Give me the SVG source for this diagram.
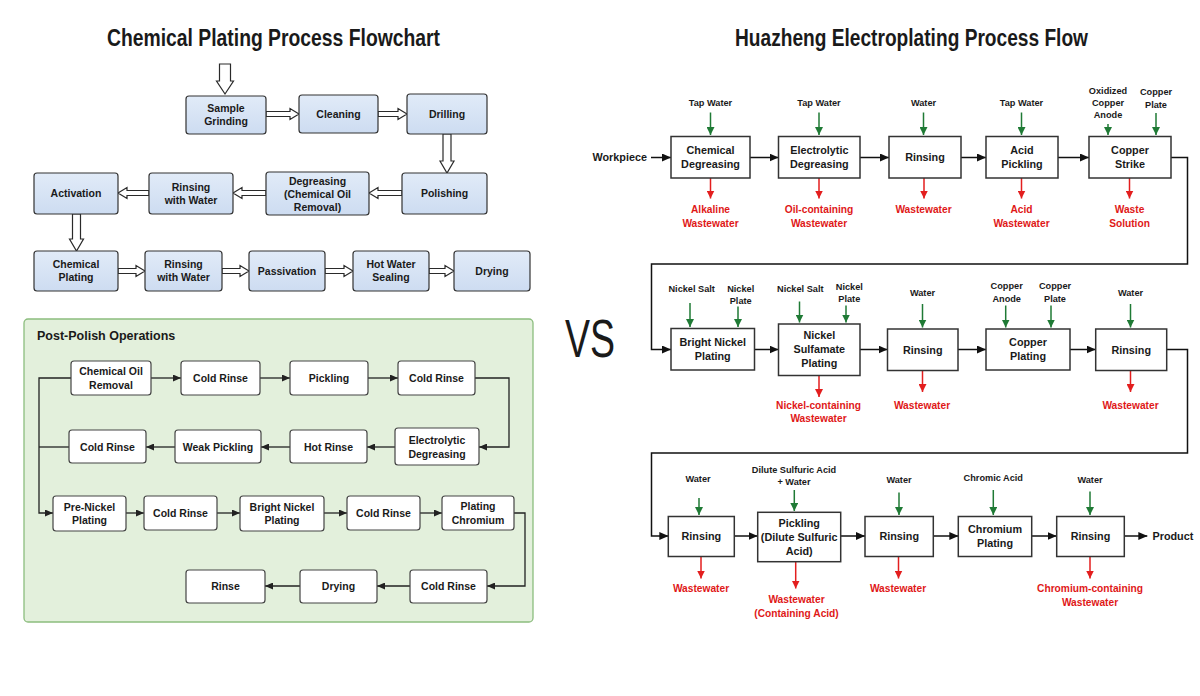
<svg xmlns="http://www.w3.org/2000/svg" width="1200" height="696" viewBox="0 0 1200 696">
<defs>
<linearGradient id="blue" x1="0" y1="0" x2="0" y2="1">
<stop offset="0" stop-color="#e1ebf8"/>
<stop offset="1" stop-color="#cddcf1"/>
</linearGradient>
<marker id="ak" markerUnits="userSpaceOnUse" markerWidth="9" markerHeight="8" viewBox="0 0 9 8" refX="9" refY="4" orient="auto"><path d="M0,0 L9,4 L0,8 z" fill="#111"/></marker>
<marker id="as" markerUnits="userSpaceOnUse" markerWidth="8" markerHeight="7" viewBox="0 0 8 7" refX="8" refY="3.5" orient="auto"><path d="M0,0 L8,3.5 L0,7 z" fill="#222"/></marker>
<marker id="ag" markerUnits="userSpaceOnUse" markerWidth="8" markerHeight="8" viewBox="0 0 8 8" refX="8" refY="4" orient="auto"><path d="M0,0 L8,4 L0,8 z" fill="#1f7a35"/></marker>
<marker id="ar" markerUnits="userSpaceOnUse" markerWidth="8" markerHeight="8" viewBox="0 0 8 8" refX="8" refY="4" orient="auto"><path d="M0,0 L8,4 L0,8 z" fill="#e31e1e"/></marker>
<style>
text{font-family:"Liberation Sans",Arial,sans-serif;font-weight:bold;fill:#1a1a1a}
.bx{fill:url(#blue);stroke:#333;stroke-width:1.2}
.wb{fill:#fff;stroke:#444;stroke-width:1.2}
.rb{fill:#fff;stroke:#333;stroke-width:1.5}
.t1{font-size:10.5px;text-anchor:middle}
.t2{font-size:10.8px;text-anchor:middle}
.lg{font-size:9.2px;text-anchor:middle}
.lr{font-size:10.2px;text-anchor:middle;fill:#e01818}
.ho{fill:#fff;stroke:#2a2a2a;stroke-width:1.2}
.cn{fill:none;stroke:#222;stroke-width:1.3}
.ck{fill:none;stroke:#111;stroke-width:1.5}
.cg{fill:none;stroke:#1f7a35;stroke-width:1.5}
.cr{fill:none;stroke:#e31e1e;stroke-width:1.5}
</style>
</defs>
<rect width="1200" height="696" fill="#fff"/>

<text x="273.5" y="46" font-size="23" text-anchor="middle" textLength="333" lengthAdjust="spacingAndGlyphs">Chemical Plating Process Flowchart</text>
<text x="911.5" y="46" font-size="23" text-anchor="middle" textLength="353" lengthAdjust="spacingAndGlyphs">Huazheng Electroplating Process Flow</text>
<text x="590" y="357" font-size="54" style="font-weight:normal" fill="#111" text-anchor="middle" textLength="50" lengthAdjust="spacingAndGlyphs">VS</text>

<g id="left-connectors">
<polygon class="ho" points="219.5,64 230.5,64 230.5,81 233.5,81 225,94 216.5,81 219.5,81"/>
<polygon class="ho" points="266,111.5 290,111.5 290,108.5 299,114 290,119.5 290,116.5 266,116.5"/>
<polygon class="ho" points="378,111.5 398,111.5 398,108.5 407,114 398,119.5 398,116.5 378,116.5"/>
<polygon class="ho" points="443,134 451,134 451,161 454,161 447,173 440,161 443,161"/>
<polygon class="ho" points="402,190.5 378,190.5 378,187.5 369,193 378,198.5 378,195.5 402,195.5"/>
<polygon class="ho" points="266,190.5 242,190.5 242,187.5 233,193 242,198.5 242,195.5 266,195.5"/>
<polygon class="ho" points="149,190.5 127,190.5 127,187.5 118,193 127,198.5 127,195.5 149,195.5"/>
<polygon class="ho" points="72.5,214 80.5,214 80.5,239 83.5,239 76.5,251 69.5,239 72.5,239"/>
<polygon class="ho" points="118,268.5 136,268.5 136,265.5 145,271 136,276.5 136,273.5 118,273.5"/>
<polygon class="ho" points="222,268.5 240,268.5 240,265.5 249,271 240,276.5 240,273.5 222,273.5"/>
<polygon class="ho" points="325,268.5 344,268.5 344,265.5 353,271 344,276.5 344,273.5 325,273.5"/>
<polygon class="ho" points="429,268.5 445,268.5 445,265.5 454,271 445,276.5 445,273.5 429,273.5"/>
</g>

<g id="n-sample"><rect class="bx" x="186" y="96" width="80" height="38" rx="3"/><text class="t1" x="226" y="112"><tspan x="226">Sample</tspan><tspan x="226" y="125.4">Grinding</tspan></text></g>
<g id="n-cleaning"><rect class="bx" x="299" y="95" width="79" height="38" rx="3"/><text class="t1" x="338.5" y="117.8">Cleaning</text></g>
<g id="n-drilling"><rect class="bx" x="407" y="94" width="80" height="40" rx="3"/><text class="t1" x="447" y="117.8">Drilling</text></g>
<g id="n-polishing"><rect class="bx" x="402" y="173" width="85" height="41" rx="3"/><text class="t1" x="444.5" y="197.3">Polishing</text></g>
<g id="n-degreasing"><rect class="bx" x="266" y="172" width="103" height="43" rx="3"/><text class="t1" x="317.5" y="185"><tspan x="317.5">Degreasing</tspan><tspan x="317.5" y="198">(Chemical Oil</tspan><tspan x="317.5" y="211">Removal)</tspan></text></g>
<g id="n-rinse1"><rect class="bx" x="149" y="173" width="84" height="41" rx="3"/><text class="t1" x="191" y="190.6"><tspan x="191">Rinsing</tspan><tspan x="191" y="204">with Water</tspan></text></g>
<g id="n-activation"><rect class="bx" x="34" y="173" width="84" height="41" rx="3"/><text class="t1" x="76" y="197.3">Activation</text></g>
<g id="n-chemplating"><rect class="bx" x="34" y="251" width="84" height="40" rx="3"/><text class="t1" x="76" y="268"><tspan x="76">Chemical</tspan><tspan x="76" y="281.4">Plating</tspan></text></g>
<g id="n-rinse2"><rect class="bx" x="145" y="251" width="77" height="40" rx="3"/><text class="t1" x="183.5" y="268"><tspan x="183.5">Rinsing</tspan><tspan x="183.5" y="281.4">with Water</tspan></text></g>
<g id="n-passivation"><rect class="bx" x="249" y="251" width="76" height="40" rx="3"/><text class="t1" x="287" y="274.8">Passivation</text></g>
<g id="n-sealing"><rect class="bx" x="353" y="251" width="76" height="40" rx="3"/><text class="t1" x="391" y="268"><tspan x="391">Hot Water</tspan><tspan x="391" y="281.4">Sealing</tspan></text></g>
<g id="n-drying"><rect class="bx" x="454" y="251" width="76" height="40" rx="3"/><text class="t1" x="492" y="274.8">Drying</text></g>

<g id="panel">
<rect x="24" y="319" width="509" height="303" rx="4" fill="#e3f0dc" stroke="#8cbd7e" stroke-width="1.3"/>
<text x="37" y="340" font-size="12.5">Post-Polish Operations</text>
</g>

<g id="panel-connectors">
<line class="cn" x1="151" y1="378" x2="181" y2="378" marker-end="url(#as)"/>
<line class="cn" x1="260" y1="378" x2="290" y2="378" marker-end="url(#as)"/>
<line class="cn" x1="368" y1="378" x2="398" y2="378" marker-end="url(#as)"/>
<path class="cn" d="M475,378 H509 V447 H479" marker-end="url(#as)"/>
<line class="cn" x1="395" y1="447" x2="367" y2="447" marker-end="url(#as)"/>
<line class="cn" x1="290" y1="447" x2="261" y2="447" marker-end="url(#as)"/>
<line class="cn" x1="175" y1="447" x2="146" y2="447" marker-end="url(#as)"/>
<path class="cn" d="M71,378 H39 V513 H53" marker-end="url(#as)"/>
<path class="cn" d="M69,447 H39"/>
<line class="cn" x1="126" y1="513" x2="144" y2="513" marker-end="url(#as)"/>
<line class="cn" x1="217" y1="513" x2="240" y2="513" marker-end="url(#as)"/>
<line class="cn" x1="324" y1="513" x2="347" y2="513" marker-end="url(#as)"/>
<line class="cn" x1="420" y1="513" x2="442" y2="513" marker-end="url(#as)"/>
<path class="cn" d="M514,513 H525 V586 H487" marker-end="url(#as)"/>
<line class="cn" x1="410" y1="586" x2="377" y2="586" marker-end="url(#as)"/>
<line class="cn" x1="300" y1="586" x2="265" y2="586" marker-end="url(#as)"/>
</g>

<g id="p-oil"><rect class="wb" x="71" y="361" width="80" height="34" rx="3"/><text class="t1" x="111" y="375.1"><tspan x="111">Chemical Oil</tspan><tspan x="111" y="388.5">Removal</tspan></text></g>
<g id="p-cold1"><rect class="wb" x="181" y="361" width="79" height="34" rx="3"/><text class="t1" x="220.5" y="381.8">Cold Rinse</text></g>
<g id="p-pickling"><rect class="wb" x="290" y="361" width="78" height="34" rx="3"/><text class="t1" x="329" y="381.8">Pickling</text></g>
<g id="p-cold2"><rect class="wb" x="398" y="361" width="77" height="34" rx="3"/><text class="t1" x="436.5" y="381.8">Cold Rinse</text></g>
<g id="p-electro"><rect class="wb" x="395" y="428" width="84" height="37" rx="3"/><text class="t1" x="437" y="444.1"><tspan x="437">Electrolytic</tspan><tspan x="437" y="457.5">Degreasing</tspan></text></g>
<g id="p-hot"><rect class="wb" x="290" y="430" width="77" height="33" rx="3"/><text class="t1" x="328.5" y="450.8">Hot Rinse</text></g>
<g id="p-weak"><rect class="wb" x="175" y="430" width="86" height="33" rx="3"/><text class="t1" x="218" y="450.8">Weak Pickling</text></g>
<g id="p-cold3"><rect class="wb" x="69" y="430" width="77" height="33" rx="3"/><text class="t1" x="107.5" y="450.8">Cold Rinse</text></g>
<g id="p-prenickel"><rect class="wb" x="53" y="496" width="73" height="35" rx="3"/><text class="t1" x="89.5" y="510.5"><tspan x="89.5">Pre-Nickel</tspan><tspan x="89.5" y="523.9">Plating</tspan></text></g>
<g id="p-cold4"><rect class="wb" x="144" y="496" width="73" height="34" rx="3"/><text class="t1" x="180.5" y="516.8">Cold Rinse</text></g>
<g id="p-bright"><rect class="wb" x="240" y="496" width="84" height="35" rx="3"/><text class="t1" x="282" y="510.5"><tspan x="282">Bright Nickel</tspan><tspan x="282" y="523.9">Plating</tspan></text></g>
<g id="p-cold5"><rect class="wb" x="347" y="496" width="73" height="34" rx="3"/><text class="t1" x="383.5" y="516.8">Cold Rinse</text></g>
<g id="p-chrome"><rect class="wb" x="442" y="496" width="72" height="34" rx="3"/><text class="t1" x="478" y="510.3"><tspan x="478">Plating</tspan><tspan x="478" y="523.7">Chromium</tspan></text></g>
<g id="p-cold6"><rect class="wb" x="410" y="570" width="77" height="33" rx="3"/><text class="t1" x="448.5" y="590.3">Cold Rinse</text></g>
<g id="p-drying"><rect class="wb" x="300" y="570" width="77" height="33" rx="3"/><text class="t1" x="338.5" y="590.3">Drying</text></g>
<g id="p-rinse"><rect class="wb" x="186" y="570" width="79" height="33" rx="3"/><text class="t1" x="225.5" y="590.3">Rinse</text></g>

<g id="right-connectors">
<line class="ck" x1="651" y1="157.5" x2="671" y2="157.5" marker-end="url(#ak)"/>
<line class="ck" x1="750" y1="157.5" x2="778.5" y2="157.5" marker-end="url(#ak)"/>
<line class="ck" x1="860" y1="157.5" x2="889" y2="157.5" marker-end="url(#ak)"/>
<line class="ck" x1="961" y1="157.5" x2="986" y2="157.5" marker-end="url(#ak)"/>
<line class="ck" x1="1058" y1="157.5" x2="1089" y2="157.5" marker-end="url(#ak)"/>
<path class="ck" d="M1171,157.5 H1187.5 V264 H651.5 V349.5 H671" marker-end="url(#ak)"/>
<line class="ck" x1="754.5" y1="349.5" x2="778.5" y2="349.5" marker-end="url(#ak)"/>
<line class="ck" x1="860" y1="349.5" x2="887.5" y2="349.5" marker-end="url(#ak)"/>
<line class="ck" x1="958" y1="349.5" x2="986" y2="349.5" marker-end="url(#ak)"/>
<line class="ck" x1="1070" y1="349.5" x2="1095.7" y2="349.5" marker-end="url(#ak)"/>
<path class="ck" d="M1166.7,349.5 H1187.5 V453 H651.5 V536 H668.3" marker-end="url(#ak)"/>
<line class="ck" x1="734.3" y1="536" x2="757.7" y2="536" marker-end="url(#ak)"/>
<line class="ck" x1="840.7" y1="536" x2="865" y2="536" marker-end="url(#ak)"/>
<line class="ck" x1="933.3" y1="536" x2="958.3" y2="536" marker-end="url(#ak)"/>
<line class="ck" x1="1031.7" y1="536" x2="1056.7" y2="536" marker-end="url(#ak)"/>
<line class="ck" x1="1124.3" y1="536" x2="1147.3" y2="536" marker-end="url(#ak)"/>
<line class="cg" x1="710.5" y1="112.5" x2="710.5" y2="135" marker-end="url(#ag)"/>
<line class="cg" x1="819" y1="112.5" x2="819" y2="135" marker-end="url(#ag)"/>
<line class="cg" x1="923.5" y1="112.5" x2="923.5" y2="135" marker-end="url(#ag)"/>
<line class="cg" x1="1021.5" y1="112.5" x2="1021.5" y2="135" marker-end="url(#ag)"/>
<line class="cg" x1="1108" y1="124" x2="1108" y2="135" marker-end="url(#ag)"/>
<line class="cg" x1="1156" y1="113" x2="1156" y2="135" marker-end="url(#ag)"/>
<line class="cg" x1="690" y1="303" x2="690" y2="327" marker-end="url(#ag)"/>
<line class="cg" x1="738" y1="306.5" x2="738" y2="327" marker-end="url(#ag)"/>
<line class="cg" x1="799.5" y1="301.5" x2="799.5" y2="322.5" marker-end="url(#ag)"/>
<line class="cg" x1="846" y1="305.5" x2="846" y2="322.5" marker-end="url(#ag)"/>
<line class="cg" x1="922.5" y1="304" x2="922.5" y2="327.5" marker-end="url(#ag)"/>
<line class="cg" x1="1005.7" y1="305.5" x2="1005.7" y2="327.5" marker-end="url(#ag)"/>
<line class="cg" x1="1051" y1="305.5" x2="1051" y2="327.5" marker-end="url(#ag)"/>
<line class="cg" x1="1130.5" y1="304" x2="1130.5" y2="327.5" marker-end="url(#ag)"/>
<line class="cg" x1="699" y1="498" x2="699" y2="515" marker-end="url(#ag)"/>
<line class="cg" x1="794.3" y1="490" x2="794.3" y2="511" marker-end="url(#ag)"/>
<line class="cg" x1="899" y1="492.5" x2="899" y2="515" marker-end="url(#ag)"/>
<line class="cg" x1="993.3" y1="490" x2="993.3" y2="515" marker-end="url(#ag)"/>
<line class="cg" x1="1090" y1="491.5" x2="1090" y2="515" marker-end="url(#ag)"/>
<line class="cr" x1="710.5" y1="178" x2="710.5" y2="198.5" marker-end="url(#ar)"/>
<line class="cr" x1="819" y1="178" x2="819" y2="198.5" marker-end="url(#ar)"/>
<line class="cr" x1="924" y1="178" x2="924" y2="198.5" marker-end="url(#ar)"/>
<line class="cr" x1="1021.5" y1="178" x2="1021.5" y2="198.5" marker-end="url(#ar)"/>
<line class="cr" x1="1129.5" y1="178" x2="1129.5" y2="198.5" marker-end="url(#ar)"/>
<line class="cr" x1="819" y1="375.5" x2="819" y2="397" marker-end="url(#ar)"/>
<line class="cr" x1="922.5" y1="370.5" x2="922.5" y2="392" marker-end="url(#ar)"/>
<line class="cr" x1="1130.5" y1="370.5" x2="1130.5" y2="392" marker-end="url(#ar)"/>
<line class="cr" x1="701" y1="556.5" x2="701" y2="578.5" marker-end="url(#ar)"/>
<line class="cr" x1="795.7" y1="561.7" x2="795.7" y2="588.5" marker-end="url(#ar)"/>
<line class="cr" x1="898.5" y1="556.5" x2="898.5" y2="578.5" marker-end="url(#ar)"/>
<line class="cr" x1="1090" y1="556.5" x2="1090" y2="578.5" marker-end="url(#ar)"/>
</g>

<g id="r-workpiece"><text x="592.5" y="161" font-size="10.8">Workpiece</text></g>
<g id="r-chemdeg"><rect class="rb" x="671" y="136.5" width="79" height="41.5"/><text class="t2" x="710.5" y="153.8"><tspan x="710.5">Chemical</tspan><tspan x="710.5" y="167.8">Degreasing</tspan></text>
<text class="lg" x="710.5" y="106">Tap Water</text><text class="lr" x="710.5" y="212.7"><tspan x="710.5">Alkaline</tspan><tspan x="710.5" y="226.7">Wastewater</tspan></text></g>
<g id="r-elecdeg"><rect class="rb" x="778.5" y="136.5" width="81.5" height="41.5"/><text class="t2" x="819.3" y="153.8"><tspan x="819.3">Electrolytic</tspan><tspan x="819.3" y="167.8">Degreasing</tspan></text>
<text class="lg" x="819" y="106">Tap Water</text><text class="lr" x="819" y="212.7"><tspan x="819">Oil-containing</tspan><tspan x="819" y="226.7">Wastewater</tspan></text></g>
<g id="r-rinse1"><rect class="rb" x="889" y="136.5" width="72" height="41.5"/><text class="t2" x="925" y="161.3">Rinsing</text>
<text class="lg" x="923.5" y="106">Water</text><text class="lr" x="923.5" y="212.7">Wastewater</text></g>
<g id="r-acid"><rect class="rb" x="986" y="136.5" width="72" height="41.5"/><text class="t2" x="1022" y="153.8"><tspan x="1022">Acid</tspan><tspan x="1022" y="167.8">Pickling</tspan></text>
<text class="lg" x="1021.5" y="106">Tap Water</text><text class="lr" x="1021.5" y="212.7"><tspan x="1021.5">Acid</tspan><tspan x="1021.5" y="226.7">Wastewater</tspan></text></g>
<g id="r-cstrike"><rect class="rb" x="1089" y="136.5" width="82" height="41.5"/><text class="t2" x="1130" y="153.8"><tspan x="1130">Copper</tspan><tspan x="1130" y="167.8">Strike</tspan></text>
<text class="lg" x="1108" y="93.5"><tspan x="1108">Oxidized</tspan><tspan x="1108" y="105.5">Copper</tspan><tspan x="1108" y="117.5">Anode</tspan></text>
<text class="lg" x="1156" y="95"><tspan x="1156">Copper</tspan><tspan x="1156" y="107.5">Plate</tspan></text>
<text class="lr" x="1129.5" y="212.7"><tspan x="1129.5">Waste</tspan><tspan x="1129.5" y="226.7">Solution</tspan></text></g>

<g id="r-bright"><rect class="rb" x="671" y="328.5" width="83.5" height="41.5"/><text class="t2" x="712.7" y="345.5"><tspan x="712.7">Bright Nickel</tspan><tspan x="712.7" y="359.5">Plating</tspan></text>
<text class="lg" x="691.7" y="292">Nickel Salt</text><text class="lg" x="740.7" y="291.5"><tspan x="740.7">Nickel</tspan><tspan x="740.7" y="303.5">Plate</tspan></text></g>
<g id="r-sulfamate"><rect class="rb" x="778.5" y="324" width="81.5" height="51.5"/><text class="t2" x="819.3" y="338.8"><tspan x="819.3">Nickel</tspan><tspan x="819.3" y="353">Sulfamate</tspan><tspan x="819.3" y="367.2">Plating</tspan></text>
<text class="lg" x="800.3" y="291.7">Nickel Salt</text><text class="lg" x="849.3" y="290"><tspan x="849.3">Nickel</tspan><tspan x="849.3" y="302">Plate</tspan></text>
<text class="lr" x="818.5" y="409"><tspan x="818.5">Nickel-containing</tspan><tspan x="818.5" y="422.3">Wastewater</tspan></text></g>
<g id="r-rinse2"><rect class="rb" x="887.5" y="329" width="70.5" height="41.5"/><text class="t2" x="922.7" y="353.5">Rinsing</text>
<text class="lg" x="922.5" y="296">Water</text><text class="lr" x="922" y="409">Wastewater</text></g>
<g id="r-cplating"><rect class="rb" x="986" y="329" width="84" height="41"/><text class="t2" x="1028" y="345.5"><tspan x="1028">Copper</tspan><tspan x="1028" y="359.5">Plating</tspan></text>
<text class="lg" x="1006.7" y="289.3"><tspan x="1006.7">Copper</tspan><tspan x="1006.7" y="301.5">Anode</tspan></text>
<text class="lg" x="1055" y="289.3"><tspan x="1055">Copper</tspan><tspan x="1055" y="301.5">Plate</tspan></text></g>
<g id="r-rinse3"><rect class="rb" x="1095.7" y="329" width="71" height="41.5"/><text class="t2" x="1131.2" y="353.5">Rinsing</text>
<text class="lg" x="1130.5" y="296">Water</text><text class="lr" x="1130.5" y="409">Wastewater</text></g>

<g id="r-rinse4"><rect class="rb" x="668.3" y="516.5" width="66" height="40"/><text class="t2" x="701.3" y="540.3">Rinsing</text>
<text class="lg" x="698" y="481.7">Water</text><text class="lr" x="701" y="592.3">Wastewater</text></g>
<g id="r-pickling"><rect class="rb" x="757.7" y="512.3" width="83" height="49.4"/><text class="t2" x="799.2" y="527.1"><tspan x="799.2">Pickling</tspan><tspan x="799.2" y="541.1">(Dilute Sulfuric</tspan><tspan x="799.2" y="555">Acid)</tspan></text>
<text class="lg" x="794" y="472.7"><tspan x="794">Dilute Sulfuric Acid</tspan><tspan x="794" y="485">+ Water</tspan></text>
<text class="lr" x="796.5" y="603.3"><tspan x="796.5">Wastewater</tspan><tspan x="796.5" y="616.7">(Containing Acid)</tspan></text></g>
<g id="r-rinse5"><rect class="rb" x="865" y="516.5" width="68.3" height="40"/><text class="t2" x="899.2" y="540.3">Rinsing</text>
<text class="lg" x="899" y="483.3">Water</text><text class="lr" x="898" y="592.3">Wastewater</text></g>
<g id="r-chromium"><rect class="rb" x="958.3" y="516.5" width="73.4" height="40"/><text class="t2" x="995" y="532.8"><tspan x="995">Chromium</tspan><tspan x="995" y="547">Plating</tspan></text>
<text class="lg" x="993.3" y="481">Chromic Acid</text></g>
<g id="r-rinse6"><rect class="rb" x="1056.7" y="516.5" width="67.6" height="40"/><text class="t2" x="1090.5" y="540.3">Rinsing</text>
<text class="lg" x="1090" y="483.3">Water</text><text class="lr" x="1090" y="592.3"><tspan x="1090">Chromium-containing</tspan><tspan x="1090" y="605.7">Wastewater</tspan></text></g>
<g id="r-product"><text x="1152.5" y="540" font-size="10.8">Product</text></g>
</svg>
